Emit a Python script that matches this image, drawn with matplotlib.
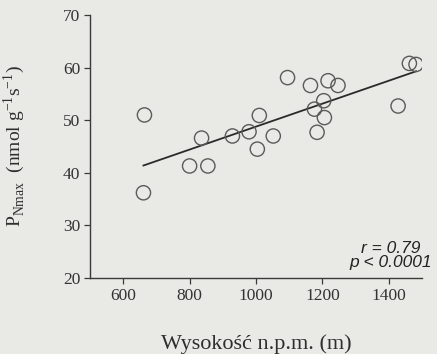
"""Scatter of P_Nmax vs altitude with linear regression line."""

import numpy as np
import matplotlib
matplotlib.use('Agg')
import matplotlib.pyplot as plt

altitude = [664, 661, 800, 836, 855, 929, 979, 1004, 1010, 1052,
            1095, 1164, 1176, 1184, 1204, 1206, 1217, 1247, 1428, 1462, 1482]
p_nmax = [51.0, 36.2, 41.3, 46.6, 41.3, 47.0, 47.8, 44.5, 50.9, 47.0,
          58.1, 56.6, 52.1, 47.7, 53.7, 50.5, 57.5, 56.6, 52.7, 60.8, 60.6]
x_ticks = [600, 800, 1000, 1200, 1400]
y_ticks = [20, 30, 40, 50, 60, 70]
stats_lines = ["r = 0.79", "p < 0.0001"]

bg = '#e9e9e5'
ink = '#3a3a3a'

fig = plt.figure(figsize=(4.37, 3.54), dpi=100, facecolor=bg)
ax = fig.add_axes([90 / 437, 1 - 278 / 354, (422 - 90) / 437, (278 - 15) / 354])
ax.set_facecolor(bg)

x = np.array(altitude, dtype=float)
y = np.array(p_nmax, dtype=float)
slope, intercept = np.polyfit(x, y, 1)
xs = np.array([x.min(), x.max()])
ax.plot(xs, slope * xs + intercept, color='#2a2a2a', lw=1.3, zorder=2)

ax.scatter(x, y, s=105, facecolors='none', edgecolors='#5a5a5a', linewidths=1.0, zorder=3)

ax.set_xlim(500, 1500)
ax.set_ylim(20, 70)
ax.set_xticks(x_ticks)
ax.set_yticks(y_ticks)

for side in ('top', 'right'):
    ax.spines[side].set_visible(False)
for side in ('left', 'bottom'):
    ax.spines[side].set_color(ink)
    ax.spines[side].set_linewidth(1.0)

serif = ['Liberation Serif', 'DejaVu Serif']
ax.tick_params(direction='out', length=4, width=0.9, color=ink, labelcolor='#333333',
               labelsize=12.5, pad=3)
for lbl in ax.get_xticklabels() + ax.get_yticklabels():
    lbl.set_family(serif)

ax.set_xlabel('Wysokość n.p.m. (m)', family=serif, fontsize=16, color='#2e2e2e', labelpad=22)
ax.set_ylabel(r'P$_{\mathregular{Nmax}}$  (nmol g$^{\mathregular{-1}}$s$^{\mathregular{-1}}$)',
              family=serif, fontsize=14, color='#2e2e2e', labelpad=26)

# stats annotation, two centred lines near the lower right corner
for txt, yfrac in zip(stats_lines, [0.095, 0.042]):
    ax.text(0.907, yfrac, txt, transform=ax.transAxes, ha='center', va='baseline',
            family=['Liberation Sans', 'DejaVu Sans'], style='italic', fontsize=12.5,
            color='#222222')

plt.savefig('out.png', dpi=100, facecolor=bg)
plt.close(fig)
